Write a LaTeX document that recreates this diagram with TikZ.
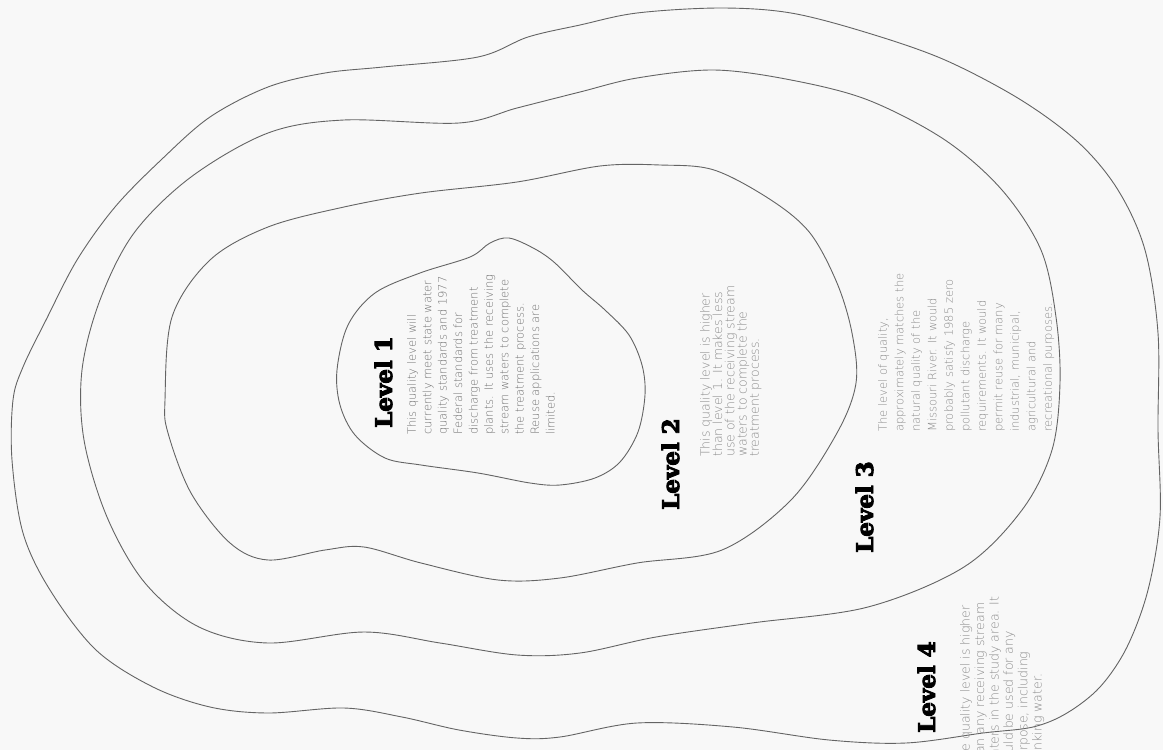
\documentclass[tikz,border=0pt]{standalone}
\usepackage{fontspec}
\setmainfont{DejaVu Sans}
\newfontfamily\descfont{DejaVuSans-ExtraLight.ttf}
\newfontfamily\lblfont{DejaVuSerif-Bold.ttf}[FakeBold=4]
\definecolor{linegray}{RGB}{100,100,100}
\definecolor{descgray}{RGB}{115,115,115}
\definecolor{descfaint}{RGB}{140,140,140}
\definecolor{bgcol}{RGB}{248,248,248}
\begin{document}
\begin{tikzpicture}[x=1pt,y=-1pt,
  contour/.style={draw=linegray, line width=0.9pt},
  lbl/.style={rotate=90, anchor=base west, inner sep=0pt, text=black,
    font=\lblfont\fontsize{23}{23}\selectfont},
  desc/.style={rotate=90, anchor=north west, inner sep=0pt, align=left, text=descgray}]
\useasboundingbox (0,0) rectangle (1163,750);
\fill[bgcol] (0,0) rectangle (1163,750);
\clip (0,0) rectangle (1163,750);
% Level 1 boundary
\draw[contour] plot[smooth cycle, tension=0.55] coordinates {
 (509,238) (535,249) (555,263) (582,290) (605,310) (629,335) (642,365) (645,395)
 (638,432) (620,462) (595,478) (560,485) (530,483) (478,473) (421,465) (385,458)
 (355,435) (340,405) (337,370) (348,325) (375,293) (420,273) (470,257) (490,243)};
% Level 2 boundary
\draw[contour] plot[smooth cycle, tension=0.55] coordinates {
 (165,400) (172,317) (210,260) (268,227) (344,207) (421,193) (517,182) (600,166)
 (660,165) (714,170) (771,200) (810,233) (837,283) (852,333) (856,383) (837,433)
 (791,500) (722,550) (637,563) (560,578) (498,580) (421,563) (364,547) (325,550)
 (268,560) (230,543) (191,493) (168,433)};
% Level 3 boundary
\draw[contour] plot[smooth cycle, tension=0.55] coordinates {
 (82,370) (100,300) (134,233) (191,177) (268,133) (344,120) (459,123) (517,108)
 (580,92) (637,78) (714,70) (791,80) (868,100) (945,140) (1002,190) (1041,250)
 (1056,317) (1060,383) (1052,450) (1022,510) (964,567) (868,607) (752,623)
 (656,637) (580,653) (517,655) (440,643) (364,632) (268,643) (199,627) (145,583)
 (107,517) (84,440)};
% Level 4 boundary
\draw[contour] plot[smooth cycle, tension=0.55] coordinates {
 (13,400) (12,460) (23,533) (50,590) (96,650) (153,687) (210,707) (268,713)
 (344,708) (402,717) (459,730) (517,738) (560,737) (637,723) (733,727) (829,740)
 (906,743) (983,733) (1033,727) (1067,713) (1100,687) (1127,647) (1148,590)
 (1160,517) (1158,430) (1158,333) (1145,250) (1118,190) (1079,143) (1021,100)
 (945,60) (868,33) (791,13) (720,8) (637,13) (580,25) (528,37) (478,57) (383,67)
 (325,73) (268,87) (210,117) (161,160) (115,207) (77,260) (46,320) (23,367)};
% Labels
\node[lbl] (l1) at (392,428) {Level 1};
\node[lbl] (l2) at (679,510) {Level 2};
\node[lbl] (l3) at (873,553) {Level 3};
\node[lbl] (l4) at (935,733) {Level 4};
% Descriptions
\node[desc, font=\descfont\fontsize{11.5}{15.4}\selectfont] (d1) at (407,435)
 {This quality level will\\currently meet state water\\quality standards and 1977\\Federal standards for\\discharge from treatment\\plants. It uses the receiving\\stream waters to complete\\the treatment process.\\Reuse applications are\\limited.};
\node[desc, text=descfaint, font=\descfont\fontsize{12.5}{12.3}\selectfont] (d2) at (700,457)
 {This quality level is higher\\than level 1. It makes less\\use of the receiving stream\\waters to complete the\\treatment process.};
\node[desc, text=descfaint, font=\descfont\fontsize{11.5}{16.5}\selectfont] (d3) at (878,432)
 {The level of quality,\\approximately matches the\\natural quality of the\\Missouri River. It would\\probably satisfy 1985 zero\\pollutant discharge\\requirements. It would\\permit reuse for many\\industrial, municipal,\\agricultural and\\recreational purposes.};
\node[desc, text=descfaint, font=\descfont\fontsize{12.5}{14.4}\selectfont] (d4) at (960,767)
 {The quality level is higher\\than any receiving stream\\waters in the study area. It\\could be used for any\\purpose, including\\drinking water.};
\end{tikzpicture}
\end{document}
